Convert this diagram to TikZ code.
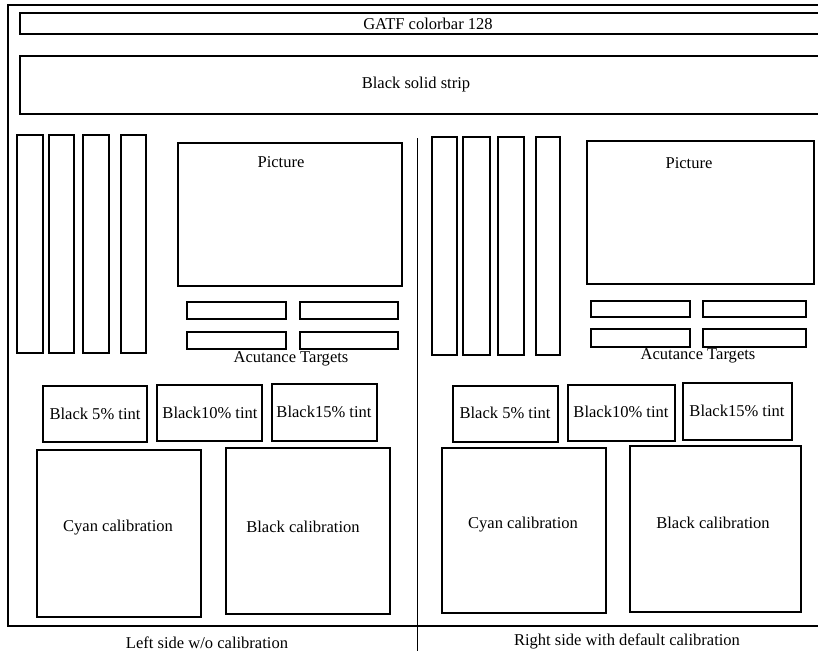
\documentclass[tikz,border=0pt]{standalone}
\usepackage{fontspec}
\setmainfont{Liberation Serif}
\tikzset{
  panel/.style={draw, line width=1.1pt},
  lbl/.style={font=\fontsize{12.4}{14}\selectfont, inner sep=0pt},
}
\begin{document}
\begin{tikzpicture}[x=0.75pt, y=-0.75pt]
      \clip (0,0) rectangle (818,654);
      % outer frame and the two strips on top
      \draw[panel] (8,5) rectangle (824,626);
      \draw[panel] (20,13) rectangle (824,34);
      \draw[panel] (20,56) rectangle (824,114);
      \node[lbl] (colorbar) at (428,24) {GATF colorbar 128};
      \node[lbl] (solid) at (416,85) {Black solid strip};
      \draw[line width=0.6pt] (417,138) -- (417,651);

      % left side
      \foreach \xa/\xb in {17/43, 49/74, 83/109, 121/146}
      {
        \draw[panel] (\xa,135) rectangle (\xb,353);
      }
      \draw[panel] (178,143) rectangle (402,286);
      \node[lbl] (picL) at (281,162) {Picture};
      \foreach \ya/\yb in {302/319, 332/349}
      {
        \draw[panel] (187,\ya) rectangle (286,\yb);
        \draw[panel] (300,\ya) rectangle (398,\yb);
      }
      \node[lbl] (acuL) at (291,359) {Acutance Targets};
      \draw[panel] (43,386) rectangle (147,442);
      \draw[panel] (157,385) rectangle (262,441);
      \draw[panel] (272,384) rectangle (377,441);
      \node[lbl] (tintL1) at (95,414) {Black 5\% tint};
      \node[lbl] (tintL2) at (210,413) {Black10\% tint};
      \node[lbl] (tintL3) at (324,412) {Black15\% tint};
      \draw[panel] (37,450) rectangle (201,617);
      \draw[panel] (226,448) rectangle (390,614);
      \node[lbl] (cyanL) at (118,528) {Cyan calibration};
      \node[lbl] (blackL) at (303,527) {Black calibration};
      \node[lbl] (capL) at (207,643) {Left side w/o calibration};

      % right side
      \foreach \xa/\xb in {432/457, 463/490, 498/524, 536/560}
      {
        \draw[panel] (\xa,137) rectangle (\xb,355);
      }
      \draw[panel] (587,141) rectangle (814,284);
      \node[lbl] (picR) at (689,163) {Picture};
      \foreach \ya/\yb in {301/317, 329/347}
      {
        \draw[panel] (591,\ya) rectangle (690,\yb);
        \draw[panel] (703,\ya) rectangle (806,\yb);
      }
      \node[lbl] (acuR) at (698,356) {Acutance Targets};
      \draw[panel] (453,386) rectangle (558,442);
      \draw[panel] (568,385) rectangle (675,441);
      \draw[panel] (683,383) rectangle (792,440);
      \node[lbl] (tintR1) at (505,413) {Black 5\% tint};
      \node[lbl] (tintR2) at (621,412) {Black10\% tint};
      \node[lbl] (tintR3) at (737,411) {Black15\% tint};
      \draw[panel] (442,448) rectangle (606,613);
      \draw[panel] (630,446) rectangle (801,612);
      \node[lbl] (cyanR) at (523,525) {Cyan calibration};
      \node[lbl] (blackR) at (713,523) {Black calibration};
      \node[lbl] (capR) at (627,641) {Right side with default calibration};
\end{tikzpicture}
\end{document}
